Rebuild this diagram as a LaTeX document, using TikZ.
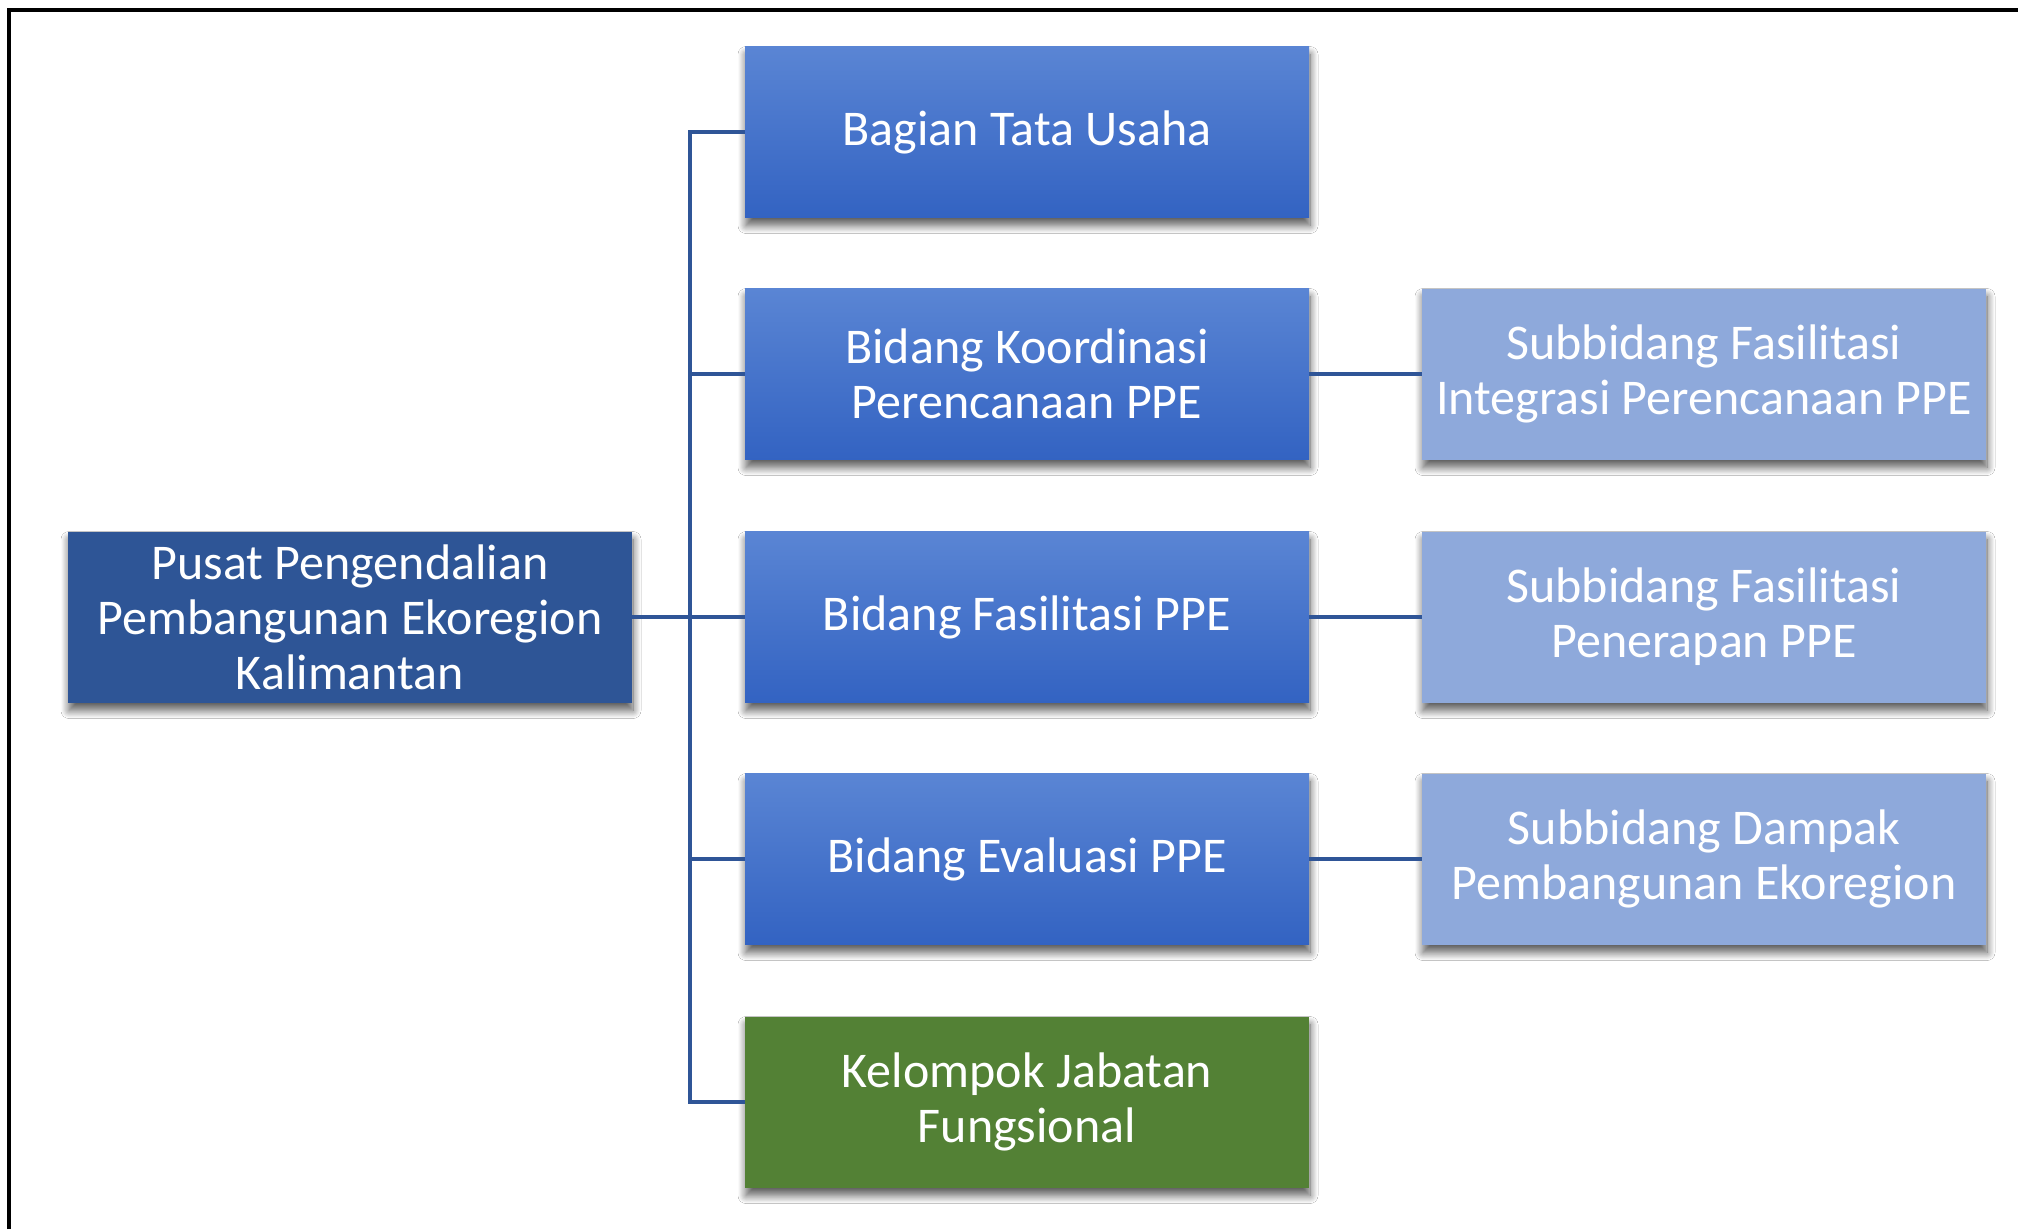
\documentclass[tikz,border=0pt]{standalone}
\usepackage{fontspec}
\setmainfont{Carlito}
\usetikzlibrary{shadows.blur}
\definecolor{rootblue}{HTML}{2E5596}
\definecolor{midtop}{HTML}{5A85D4}
\definecolor{midbot}{HTML}{3363C2}
\definecolor{subblue}{HTML}{8EA9DB}
\definecolor{fgreen}{HTML}{538135}
\definecolor{linkblue}{HTML}{2F5597}
\tikzset{
  box/.style={rectangle, minimum width=564pt, minimum height=171pt, inner sep=0pt,
    text=white, align=center, font=\fontsize{50}{55}\selectfont,
    blur shadow={shadow xshift=1pt, shadow yshift=-8pt, shadow blur radius=8pt, shadow blur steps=12, shadow opacity=65}},
  rootbox/.style={box, fill=rootblue},
  midbox/.style={box, top color=midtop, bottom color=midbot},
  subbox/.style={box, fill=subblue},
  greenbox/.style={box, fill=fgreen},
  conn/.style={draw=linkblue, line width=4.5pt},
  frame/.style={draw=black, line width=3.5pt}
}
\begin{document}
\begin{tikzpicture}[x=1pt,y=-1pt]
\useasboundingbox (0,0) rectangle (2018,1229);
\fill[white] (0,0) rectangle (2018,1229);
\coordinate (fc) at (9,10);
\draw[frame] (fc |- 0,1229) -- (fc) -- (fc -| 2018,0);

\node[rootbox] (root) at (350,617) {Pusat Pengendalian\\Pembangunan Ekoregion\\Kalimantan};
\node[midbox] (b1) at (1027,132) {Bagian Tata Usaha};
\node[midbox] (b2) at (1027,374) {Bidang Koordinasi\\Perencanaan PPE};
\node[midbox] (b3) at (1027,617) {Bidang Fasilitasi PPE};
\node[midbox] (b4) at (1027,859) {Bidang Evaluasi PPE};
\node[greenbox] (b5) at (1027,1102) {Kelompok Jabatan\\Fungsional};
\node[subbox] (s2) at (1704,374) {Subbidang Fasilitasi\\Integrasi Perencanaan PPE};
\node[subbox] (s3) at (1704,617) {Subbidang Fasilitasi\\Penerapan PPE};
\node[subbox] (s4) at (1704,859) {Subbidang Dampak\\Pembangunan Ekoregion};

\coordinate (bus) at (690,617);
\draw[conn] (b1.west) -| (bus) |- (b5.west);
\draw[conn] (root.east) -- (bus);
\draw[conn] (b2.west) -- (b2.west -| bus);
\draw[conn] (b3.west) -- (bus);
\draw[conn] (b4.west) -- (b4.west -| bus);
\draw[conn] (b2.east) -- (s2.west);
\draw[conn] (b3.east) -- (s3.west);
\draw[conn] (b4.east) -- (s4.west);
\end{tikzpicture}
\end{document}
